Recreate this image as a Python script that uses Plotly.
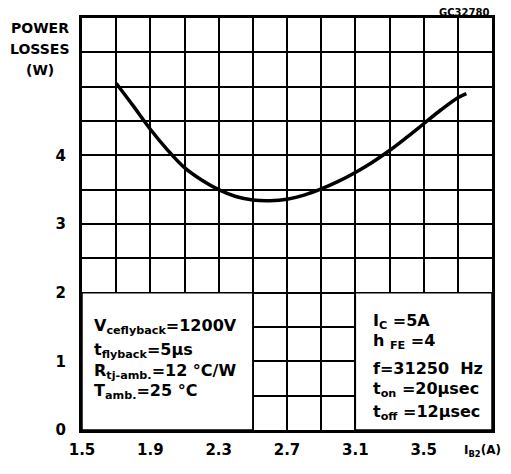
import plotly.graph_objects as go

# Data
ib2 = [1.70, 1.80, 1.90, 2.00, 2.10, 2.20, 2.30, 2.40, 2.50, 2.60, 2.70, 2.80, 2.90, 3.00, 3.10, 3.20, 3.30, 3.40, 3.50, 3.60, 3.70, 3.75]
losses = [5.05, 4.72, 4.38, 4.08, 3.82, 3.64, 3.50, 3.40, 3.35, 3.34, 3.36, 3.42, 3.51, 3.62, 3.75, 3.90, 4.07, 4.26, 4.46, 4.66, 4.84, 4.90]

x_tickvals = [1.5, 1.9, 2.3, 2.7, 3.1, 3.5]
x_ticktext = ["1.5", "1.9", "2.3", "2.7", "3.1", "3.5"]
x_axis_label = "I<sub>B2</sub>(A)"
y_tickvals = [0, 1, 2, 3, 4]
y_ticktext = ["0", "1", "2", "3", "4"]
y_axis_label = ["POWER", "LOSSES", "(W)"]
chart_code = "GC32780"

left_box_lines = [
    "V<sub>ceflyback</sub>=1200V",
    "t<sub>flyback</sub>=5µs",
    "R<sub>tj-amb.</sub>=12 °C/W",
    "T<sub>amb.</sub>=25 °C",
]
right_box_lines = [
    "I<sub>C</sub> =5A",
    "h <sub>FE</sub> =4",
    "f=31250  Hz",
    "t<sub>on</sub> =20µsec",
    "t<sub>off</sub> =12µsec",
]

FONT = "DejaVu Sans, Arial, sans-serif"

# page has an 8px body margin on every side; target plot area in page pixels: x 82..492, y 18..430
OFF = 8
PL, PR, PT, PB = 82, 492, 18, 430
W, H = 511 - 2 * OFF, 474 - 2 * OFF


def paper_x(px):
    return (px - PL) / (PR - PL)


def paper_y(py):
    return (PB - py) / (PB - PT)


fig = go.Figure()
fig.add_trace(go.Scatter(x=ib2, y=losses, mode="lines",
                         line=dict(color="black", width=3.5, shape="spline", smoothing=1.0),
                         hoverinfo="skip", showlegend=False))

# white boxes hiding the grid
fig.add_shape(type="rect", x0=1.5, x1=2.5, y0=0, y1=2, xref="x", yref="y",
              fillcolor="white", line=dict(color="black", width=1.5), layer="above")
fig.add_shape(type="rect", x0=3.1, x1=3.9, y0=0, y1=2, xref="x", yref="y",
              fillcolor="white", line=dict(color="black", width=1.5), layer="above")

annotations = []
left_py = [326, 350, 371, 391]
for txt, py in zip(left_box_lines, left_py):
    annotations.append(dict(x=paper_x(92), y=paper_y(py), xref="paper", yref="paper",
                            text="<b>" + txt + "</b>",
                            showarrow=False, xanchor="left", yanchor="middle",
                            font=dict(family=FONT, size=16, color="black")))
right_py = [321, 341, 368, 389, 412]
for txt, py in zip(right_box_lines, right_py):
    annotations.append(dict(x=paper_x(371), y=paper_y(py), xref="paper", yref="paper",
                            text="<b>" + txt + "</b>",
                            showarrow=False, xanchor="left", yanchor="middle",
                            font=dict(family=FONT, size=16, color="black")))

for txt, py in zip(y_axis_label, [28, 49, 70]):
    annotations.append(dict(x=paper_x(40), y=paper_y(py), xref="paper", yref="paper",
                            text="<b>" + txt + "</b>", showarrow=False,
                            xanchor="center", yanchor="middle",
                            font=dict(family=FONT, size=14, color="black")))
annotations.append(dict(x=paper_x(491), y=paper_y(12.5), xref="paper", yref="paper",
                        text="<b>" + chart_code + "</b>", showarrow=False, xanchor="right",
                        yanchor="middle", font=dict(family=FONT, size=10, color="black")))
annotations.append(dict(x=paper_x(503), y=paper_y(451), xref="paper", yref="paper",
                        text="<b>" + x_axis_label + "</b>",
                        showarrow=False, xanchor="right", yanchor="middle",
                        font=dict(family=FONT, size=12, color="black")))

fig.update_layout(
    width=W, height=H,
    margin=dict(l=PL - OFF, r=W - (PR - OFF), t=PT - OFF, b=H - (PB - OFF), autoexpand=False),
    paper_bgcolor="white", plot_bgcolor="white",
    annotations=annotations,
    xaxis=dict(range=[1.5, 3.9], tickvals=x_tickvals, ticktext=x_ticktext,
               showgrid=True, gridcolor="black", gridwidth=1.5,
               minor=dict(dtick=0.2, tick0=1.5, showgrid=True, gridcolor="black", gridwidth=1.5),
               showline=True, linecolor="black", linewidth=3, mirror=True,
               ticks="", zeroline=False, ticklabelstandoff=4, automargin=False,
               tickfont=dict(family=FONT, size=15, color="black", weight="bold")),
    yaxis=dict(range=[0, 6], tickvals=y_tickvals, ticktext=y_ticktext,
               showgrid=True, gridcolor="black", gridwidth=1.5,
               minor=dict(dtick=0.5, tick0=0, showgrid=True, gridcolor="black", gridwidth=1.5),
               showline=True, linecolor="black", linewidth=3, mirror=True,
               ticks="", zeroline=False, ticklabelstandoff=10, automargin=False,
               tickfont=dict(family=FONT, size=15, color="black", weight="bold")),
)

fig.write_html("out.html")
